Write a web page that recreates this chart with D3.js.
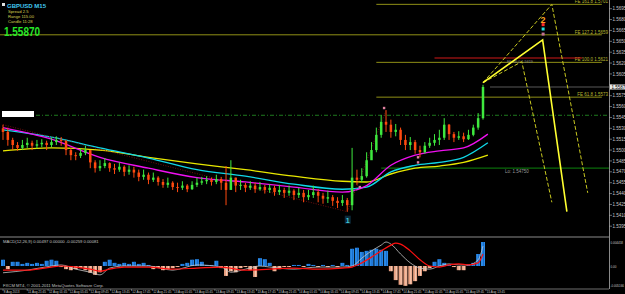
<!DOCTYPE html>
<html>
<head>
<meta charset="utf-8">
<script src="https://cdn.jsdelivr.net/npm/d3@7"></script>
<style>
html, body { margin: 0; padding: 0; background: #000; overflow: hidden; }
svg { display: block; }
text { font-family: "Liberation Sans", Arial, sans-serif; }
</style>
</head>
<body>
<svg id="chart" width="625" height="294"></svg>
<script>
// GBPUSD M15 candles (one entry per drawn bar)
const firstOpen = 1.5530;
const closes = [1.5525,1.5514,1.5507,1.5503,1.5507,1.5510,1.5506,1.5508,1.5510,1.5507,
  1.5511,1.5514,1.5513,1.5500,1.5493,1.5492,1.5496,1.5500,1.5483,1.5475,
  1.5478,1.5482,1.5475,1.5473,1.5477,1.5470,1.5473,1.5469,1.5463,1.5466,
  1.5459,1.5462,1.5456,1.5452,1.5455,1.5449,1.5448,1.5451,1.5446,1.5452,
  1.5455,1.5457,1.5459,1.5456,1.5460,1.5455,1.5445,1.5462,1.5451,1.5452,
  1.5448,1.5451,1.5446,1.5449,1.5445,1.5448,1.5442,1.5445,1.5441,1.5444,
  1.5438,1.5441,1.5435,1.5438,1.5442,1.5437,1.5433,1.5435,1.5430,1.5427,
  1.5431,1.5424,1.5462,1.5459,1.5464,1.5486,1.5500,1.5521,1.5539,1.5535,
  1.5525,1.5528,1.5514,1.5507,1.5511,1.5500,1.5497,1.5506,1.5510,1.5514,
  1.5517,1.5535,1.5522,1.5517,1.5519,1.5515,1.5521,1.5531,1.5544,1.5587];
const highs = [1.5535,1.5531,1.5517,1.5511,1.5514,1.5517,1.5513,1.5514,1.5515,1.5513,
  1.5517,1.5519,1.5518,1.5513,1.5503,1.5497,1.5502,1.5506,1.5500,1.5486,
  1.5486,1.5489,1.5483,1.5481,1.5483,1.5479,1.5479,1.5477,1.5473,1.5473,
  1.5469,1.5469,1.5464,1.5460,1.5462,1.5457,1.5455,1.5457,1.5453,1.5457,
  1.5462,1.5463,1.5464,1.5462,1.5466,1.5463,1.5478,1.5486,1.5462,1.5459,
  1.5455,1.5457,1.5455,1.5456,1.5452,1.5453,1.5451,1.5452,1.5448,1.5451,
  1.5446,1.5448,1.5445,1.5445,1.5451,1.5446,1.5441,1.5444,1.5438,1.5435,
  1.5438,1.5434,1.5503,1.5473,1.5475,1.5497,1.5511,1.5531,1.5548,1.5555,
  1.5542,1.5536,1.5531,1.5521,1.5518,1.5514,1.5506,1.5511,1.5517,1.5522,
  1.5528,1.5544,1.5536,1.5525,1.5526,1.5524,1.5528,1.5535,1.5551,1.5590];
const lows = [1.5514,1.5506,1.5500,1.5499,1.5500,1.5503,1.5500,1.5502,1.5504,1.5500,
  1.5504,1.5507,1.5506,1.5493,1.5486,1.5486,1.5489,1.5493,1.5475,1.5469,
  1.5471,1.5475,1.5470,1.5467,1.5470,1.5464,1.5466,1.5462,1.5457,1.5459,
  1.5453,1.5456,1.5451,1.5448,1.5448,1.5445,1.5442,1.5445,1.5442,1.5445,
  1.5449,1.5452,1.5453,1.5451,1.5453,1.5445,1.5424,1.5452,1.5442,1.5445,
  1.5442,1.5445,1.5441,1.5444,1.5440,1.5441,1.5437,1.5438,1.5434,1.5437,
  1.5431,1.5434,1.5428,1.5431,1.5434,1.5428,1.5426,1.5427,1.5423,1.5420,
  1.5423,1.5415,1.5417,1.5452,1.5456,1.5462,1.5489,1.5497,1.5517,1.5525,
  1.5517,1.5519,1.5507,1.5500,1.5500,1.5495,1.5490,1.5495,1.5503,1.5506,
  1.5507,1.5514,1.5514,1.5511,1.5514,1.5511,1.5514,1.5519,1.5528,1.5542];

// moving averages, sampled at these bars
const maBars = [0, 10, 20, 30, 40, 50, 60, 70, 75, 80, 85, 90, 95, 100];
const maYellow = [1.5499,1.5503,1.5500,1.5490,1.5481,1.5473,1.5464,1.5457,1.5456,1.5467,1.5475,1.5478,1.5483,1.5493];
const maCyan = [1.5528,1.5518,1.5503,1.5489,1.5473,1.5464,1.5453,1.5446,1.5449,1.5470,1.5479,1.5483,1.5490,1.5510];
const maMagenta = [1.5531,1.5515,1.5490,1.5475,1.5462,1.5456,1.5449,1.5442,1.5451,1.5479,1.5493,1.5499,1.5503,1.5522];

// zigzag (dotted)
const zigBars = [0, 71, 79];
const zigPrices = [1.5535, 1.5415, 1.5555];

// Fibonacci expansion levels
const feLevels = ["161.8", "127.2", "100.0", "61.8"];
const fePrices = [1.5701, 1.5659, 1.5621, 1.5573];
const feFrom = [77, -1, 77, 77];
const feTo = 123.5;
const redLevel = 1.5627, redFrom = 89, redTo = 119.5;
const lowLevel = 1.5475, lowFrom = 78;
const dotLevel = 1.5548;
const bidPrice = 1.5587;

// projection lines drawn on the chart
const solidWave = [[99, 1.5593], [111.3, 1.5652], [116.3, 1.5415]];
const dashWaveA = [[99, 1.5593], [113.2, 1.5701], [120.6, 1.5441]];
const dashWaveB = [[99, 1.5593], [107, 1.5622], [113.2, 1.5428]];

// MACD
const histogram = [0.0012,-0.0006,0.0008,0.0008,0.0004,0.0006,0.0004,0.0006,0.0004,0.0010,
  0.0012,0.0010,-0.0002,-0.0006,-0.0008,-0.0006,-0.0004,-0.0008,-0.0013,-0.0017,
  -0.0012,0.0008,0.0012,0.0006,0.0004,0.0006,0.0004,0.0008,0.0004,0.0006,
  0.0002,-0.0006,-0.0004,-0.0008,-0.0006,-0.0004,-0.0002,0.0004,0.0006,0.0012,
  0.0013,0.0008,0.0002,0.0002,0.0010,-0.0004,-0.0019,-0.0010,-0.0012,-0.0004,
  -0.0002,-0.0008,-0.0021,0.0015,0.0013,0.0006,-0.0010,-0.0006,-0.0002,-0.0002,
  0.0002,0.0002,-0.0002,0.0004,0.0002,-0.0002,0.0002,-0.0002,0.0002,-0.0002,
  0.0006,0.0002,0.0033,0.0035,0.0027,0.0029,0.0031,0.0033,0.0031,0.0029,
  -0.0010,-0.0027,-0.0036,-0.0038,-0.0035,-0.0029,-0.0019,-0.0010,-0.0004,0.0008,
  0.0013,0.0006,0.0002,-0.0002,-0.0008,-0.0008,0.0002,0.0006,0.0023,0.0046];
const macdBars = [0,5,10,12,15,18,20,22,25,30,35,40,45,47,50,53,55,60,65,70,72,74,76,78,79,80,82,84,86,88,90,92,94,96,98,99];
const macdMain = [-0.0013,-0.0008,0,0.0002,-0.0006,-0.0012,-0.0017,-0.0004,0,0,-0.0008,0.0002,-0.0002,-0.0012,-0.0006,0,-0.0002,-0.0006,-0.0002,-0.0002,0,0.0015,0.0029,0.0040,0.0046,0.0042,0.0023,0.0006,-0.0004,-0.0006,0,0.0004,0.0002,0.0002,0.0012,0.0038];
const signalBars = [0,5,10,12,15,18,20,22,25,30,35,40,45,50,55,60,65,70,72,74,76,78,80,81,82,84,86,88,90,92,94,96,98,99];
const macdSignal = [-0.0008,-0.0008,-0.0002,0,-0.0002,-0.0006,-0.0010,-0.0006,-0.0002,-0.0002,-0.0006,-0.0004,-0.0002,-0.0008,-0.0006,-0.0004,-0.0006,-0.0004,-0.0002,0.0006,0.0017,0.0029,0.0040,0.0044,0.0042,0.0029,0.0012,0,-0.0002,0.0002,0.0004,0.0002,0.0006,0.0023];

// axis labels
const priceTicks = [1.5395,1.5410,1.5425,1.5440,1.5455,1.5470,1.5485,1.5500,1.5515,1.5530,1.5545,
  1.5560,1.5575,1.5590,1.5605,1.5620,1.5635,1.5650,1.5665,1.5680,1.5695];
const macdTicks = [0.004458, 0, -0.005166];
const timeLabels = ["8 Aug 2013","11 Aug 21:45","12 Aug 01:45","12 Aug 05:45","12 Aug 09:45","12 Aug 13:45",
  "12 Aug 17:45","12 Aug 21:45","13 Aug 01:45","13 Aug 05:45","13 Aug 09:45","13 Aug 13:45",
  "13 Aug 17:45","13 Aug 21:45","14 Aug 01:45","14 Aug 05:45","14 Aug 09:45","14 Aug 13:45",
  "14 Aug 17:45","14 Aug 21:45","15 Aug 01:45","15 Aug 05:45","15 Aug 09:45","15 Aug 13:45"];
const timeLabelBars = [0,5,9.3,13.6,17.9,22.2,26.5,30.8,35.1,39.4,43.7,48.0,
  52.3,56.6,60.9,65.2,69.5,73.8,78.1,82.4,86.7,91.0,95.3,99.6];

// ---------------------------------------------------------------
const svg = d3.select("#chart");
const plotRight = 609;
const mainBottom = 236, macdTop = 238, macdBottom = 289;

const x = d3.scaleLinear().domain([0, 99]).range([3, 483]);
const y = d3.scaleLinear().domain([1.5387, 1.5707]).range([232, 0]);
const ym = d3.scaleLinear().domain([-0.0046, 0.0046]).range([290, 242]);

svg.append("rect").attr("width", 625).attr("height", 294).attr("fill", "#000");

const defs = svg.append("defs");
defs.append("clipPath").attr("id", "mainClip")
  .append("rect").attr("x", 0).attr("y", 0).attr("width", plotRight).attr("height", mainBottom);
defs.append("clipPath").attr("id", "macdClip")
  .append("rect").attr("x", 0).attr("y", macdTop).attr("width", plotRight).attr("height", macdBottom - macdTop);

const main = svg.append("g").attr("clip-path", "url(#mainClip)");

// horizontal helper lines
main.append("line")
  .attr("x1", 36).attr("x2", plotRight).attr("y1", y(dotLevel)).attr("y2", y(dotLevel))
  .attr("stroke", "#1f7a1f").attr("stroke-width", 1).attr("stroke-dasharray", "4,2,1,2");

main.append("line")
  .attr("x1", x(lowFrom)).attr("x2", plotRight).attr("y1", y(lowLevel)).attr("y2", y(lowLevel))
  .attr("stroke", "#0a6a0a").attr("stroke-width", 1.3);
main.append("text")
  .attr("x", 505).attr("y", y(lowLevel) + 5).attr("font-size", 4.5).attr("fill", "#9a9a9a")
  .text("Lo:  " + lowLevel.toFixed(5));

main.append("line")
  .attr("x1", 490).attr("x2", plotRight).attr("y1", y(bidPrice)).attr("y2", y(bidPrice))
  .attr("stroke", "#707070").attr("stroke-width", 0.8);

// FE levels
fePrices.forEach((p, i) => {
  main.append("line")
    .attr("x1", x(feFrom[i])).attr("x2", x(feTo)).attr("y1", y(p)).attr("y2", y(p))
    .attr("stroke", "#8f8f16").attr("stroke-width", 1);
  main.append("text")
    .attr("x", plotRight - 1).attr("y", y(p) - 1).attr("text-anchor", "end")
    .attr("font-size", 4.5).attr("fill", "#b8b830")
    .text("FE " + feLevels[i] + "  " + p.toFixed(4));
});
main.append("line")
  .attr("x1", x(redFrom)).attr("x2", x(redTo)).attr("y1", y(redLevel)).attr("y2", y(redLevel))
  .attr("stroke", "#d01818").attr("stroke-width", 1);
main.append("text")
  .attr("x", 507).attr("y", y(fePrices[2]) + 1).attr("font-size", 3.8).attr("fill", "#8a8a8a")
  .text("FE 50.0 1.5619");

// moving averages
const maLine = d3.line().x((d, i) => x(maBars[i])).y(d => y(d)).curve(d3.curveMonotoneX);
main.append("path").attr("d", maLine(maYellow)).attr("fill", "none").attr("stroke", "#e8e800").attr("stroke-width", 1.3);
main.append("path").attr("d", maLine(maCyan)).attr("fill", "none").attr("stroke", "#10d8e8").attr("stroke-width", 1.3);
main.append("path").attr("d", maLine(maMagenta)).attr("fill", "none").attr("stroke", "#f010f0").attr("stroke-width", 1.3);

// zigzag
const zig = d3.line().x((d, i) => x(zigBars[i])).y(d => y(d));
main.append("path").attr("d", zig(zigPrices)).attr("fill", "none")
  .attr("stroke", "#7a1010").attr("stroke-width", 0.9).attr("stroke-dasharray", "1,1.5");

// candles
const opens = [firstOpen].concat(closes.slice(0, -1));
const bull = "#3ee83e", bear = "#ff4a10";
const candles = main.append("g");
closes.forEach((c, i) => {
  const o = opens[i];
  const col = c >= o ? bull : bear;
  candles.append("line")
    .attr("x1", x(i)).attr("x2", x(i)).attr("y1", y(highs[i])).attr("y2", y(lows[i]))
    .attr("stroke", col).attr("stroke-width", 1);
  candles.append("rect")
    .attr("x", x(i) - 1.25).attr("width", 2.5)
    .attr("y", y(Math.max(o, c))).attr("height", Math.max(1, y(Math.min(o, c)) - y(Math.max(o, c))))
    .attr("fill", col);
});

// projection lines
const wave = d3.line().x(d => x(d[0])).y(d => y(d[1]));
main.append("path").attr("d", wave(dashWaveA)).attr("fill", "none")
  .attr("stroke", "#c8c820").attr("stroke-width", 1).attr("stroke-dasharray", "4,2");
main.append("path").attr("d", wave(dashWaveB)).attr("fill", "none")
  .attr("stroke", "#c8c820").attr("stroke-width", 1).attr("stroke-dasharray", "4,2");
main.append("path").attr("d", wave(solidWave)).attr("fill", "none")
  .attr("stroke", "#ffff30").attr("stroke-width", 1.6);

// markers
const peakBar = 111.4;
main.append("text").attr("x", x(peakBar)).attr("y", y(1.5679) + 3).attr("text-anchor", "middle")
  .attr("font-size", 9).attr("font-weight", "bold").attr("fill", "#ffa020").text("2");
[[1.5673, "#ff2a2a"], [1.5667, "#20e0e0"], [1.5660, "#c07090"]].forEach(m => {
  main.append("rect").attr("x", x(peakBar) - 1.5).attr("y", y(m[0]) - 1.5)
    .attr("width", 3).attr("height", 3).attr("fill", m[1]);
});
[[78.6, 1.5558], [73.6, 1.5449], [85.6, 1.5490], [85.6, 1.5483]].forEach(m => {
  main.append("rect").attr("x", x(m[0]) - 1.2).attr("y", y(m[1]) - 1.2)
    .attr("width", 2.4).attr("height", 2.4).attr("fill", "#e080a0");
});
main.append("rect").attr("x", x(71) - 2.5).attr("y", y(1.5404) - 4)
  .attr("width", 6).attr("height", 8).attr("fill", "#0c2a3a");
main.append("text").attr("x", x(71) + 0.5).attr("y", y(1.5404) + 3).attr("text-anchor", "middle")
  .attr("font-size", 7).attr("font-weight", "bold").attr("fill", "#40c8d8").text("1");

// white label box top-left
main.append("rect").attr("x", 2).attr("y", 111).attr("width", 32).attr("height", 6).attr("fill", "#fff");

// info texts
svg.append("rect").attr("x", 2).attr("y", 3).attr("width", 3).attr("height", 3).attr("fill", "#e0e0e0");
svg.append("text").attr("x", 7).attr("y", 7.5).attr("font-size", 6).attr("font-weight", "bold")
  .attr("fill", "#40c8f0").text("GBPUSD   M15");
["Spread  2.5", "Range  115.00", "Candle  11:28"].forEach((t, i) => {
  svg.append("text").attr("x", 8).attr("y", 13 + i * 4.8).attr("font-size", 4.2)
    .attr("fill", "#d8d050").text(t);
});
svg.append("text").attr("x", 4).attr("y", 36).attr("font-size", 13).attr("font-weight", "bold")
  .attr("fill", "#28e828").attr("textLength", 36).attr("lengthAdjust", "spacingAndGlyphs")
  .text(bidPrice.toFixed(5) + "");

// right axis
svg.append("line").attr("x1", plotRight + 0.5).attr("x2", plotRight + 0.5).attr("y1", 0).attr("y2", macdBottom)
  .attr("stroke", "#8a8a8a").attr("stroke-width", 1);
priceTicks.forEach(p => {
  svg.append("line").attr("x1", plotRight).attr("x2", plotRight + 3).attr("y1", y(p)).attr("y2", y(p))
    .attr("stroke", "#b0b0b0").attr("stroke-width", 0.6);
  if (Math.abs(y(p) - y(bidPrice)) < 5) return;
  svg.append("text").attr("x", plotRight + 3.5).attr("y", y(p) + 1.6).attr("font-size", 4.5)
    .attr("fill", "#c8c8c8").text(p.toFixed(4));
});
svg.append("rect").attr("x", plotRight + 1).attr("y", y(bidPrice) - 2.5).attr("width", 15).attr("height", 5)
  .attr("fill", "#e8e8e8");
svg.append("text").attr("x", plotRight + 2.5).attr("y", y(bidPrice) + 1.6).attr("font-size", 4.5)
  .attr("fill", "#000").text(bidPrice.toFixed(4));

// panel separators
svg.append("line").attr("x1", 0).attr("x2", plotRight).attr("y1", mainBottom + 1).attr("y2", mainBottom + 1)
  .attr("stroke", "#8a8a8a").attr("stroke-width", 1.2);
svg.append("line").attr("x1", 0).attr("x2", plotRight).attr("y1", macdBottom).attr("y2", macdBottom)
  .attr("stroke", "#8a8a8a").attr("stroke-width", 0.8);

// MACD panel
const macd = svg.append("g").attr("clip-path", "url(#macdClip)");
histogram.forEach((v, i) => {
  macd.append("rect")
    .attr("x", x(i) - 2).attr("width", 4)
    .attr("y", Math.min(ym(v), ym(0))).attr("height", Math.max(0.5, Math.abs(ym(v) - ym(0))))
    .attr("fill", v >= 0 ? "#2a8ae8" : "#e8a080");
  macd.append("line")
    .attr("x1", x(i) + 0.5).attr("x2", x(i) + 0.5).attr("y1", ym(0)).attr("y2", ym(v))
    .attr("stroke", v >= 0 ? "#1060c0" : "#fbe0d0").attr("stroke-width", 0.7);
});
const mline = bars => d3.line().x((d, i) => x(bars[i])).y(d => ym(d)).curve(d3.curveMonotoneX);
macd.append("path").attr("d", mline(macdBars)(macdMain)).attr("fill", "none")
  .attr("stroke", "#c8c8c8").attr("stroke-width", 0.8);
macd.append("path").attr("d", mline(signalBars)(macdSignal)).attr("fill", "none")
  .attr("stroke", "#ff1010").attr("stroke-width", 1.2);

svg.append("text").attr("x", 3).attr("y", 242.5).attr("font-size", 4.2).attr("fill", "#c0c0c0")
  .text("MACD(12,26,9)  0.00497  0.00000  -0.00259  0.00081");
svg.append("text").attr("x", 3).attr("y", 287).attr("font-size", 4.2).attr("fill", "#c0c0c0")
  .text("FXCM MT4, \u00a9 2001-2011 MetaQuotes Software Corp.");
macdTicks.forEach(t => {
  const ty = Math.min(Math.max(ym(t) + 1.6, 244), 287);
  const label = t === 0 ? "0.00" : t.toFixed(6);
  svg.append("text").attr("x", plotRight + 1.5).attr("y", ty)
    .attr("font-size", 3).attr("fill", "#c8c8c8")
    .text(label);
});

// time axis
timeLabels.forEach((t, i) => {
  const tx = x(timeLabelBars[i]);
  svg.append("line").attr("x1", tx).attr("x2", tx).attr("y1", macdBottom).attr("y2", macdBottom + 2)
    .attr("stroke", "#a0a0a0").attr("stroke-width", 0.6);
  svg.append("text").attr("x", tx + 0.8).attr("y", 293).attr("font-size", 3.1)
    .attr("fill", "#c8c8c8").text(t);
});
</script>
</body>
</html>
